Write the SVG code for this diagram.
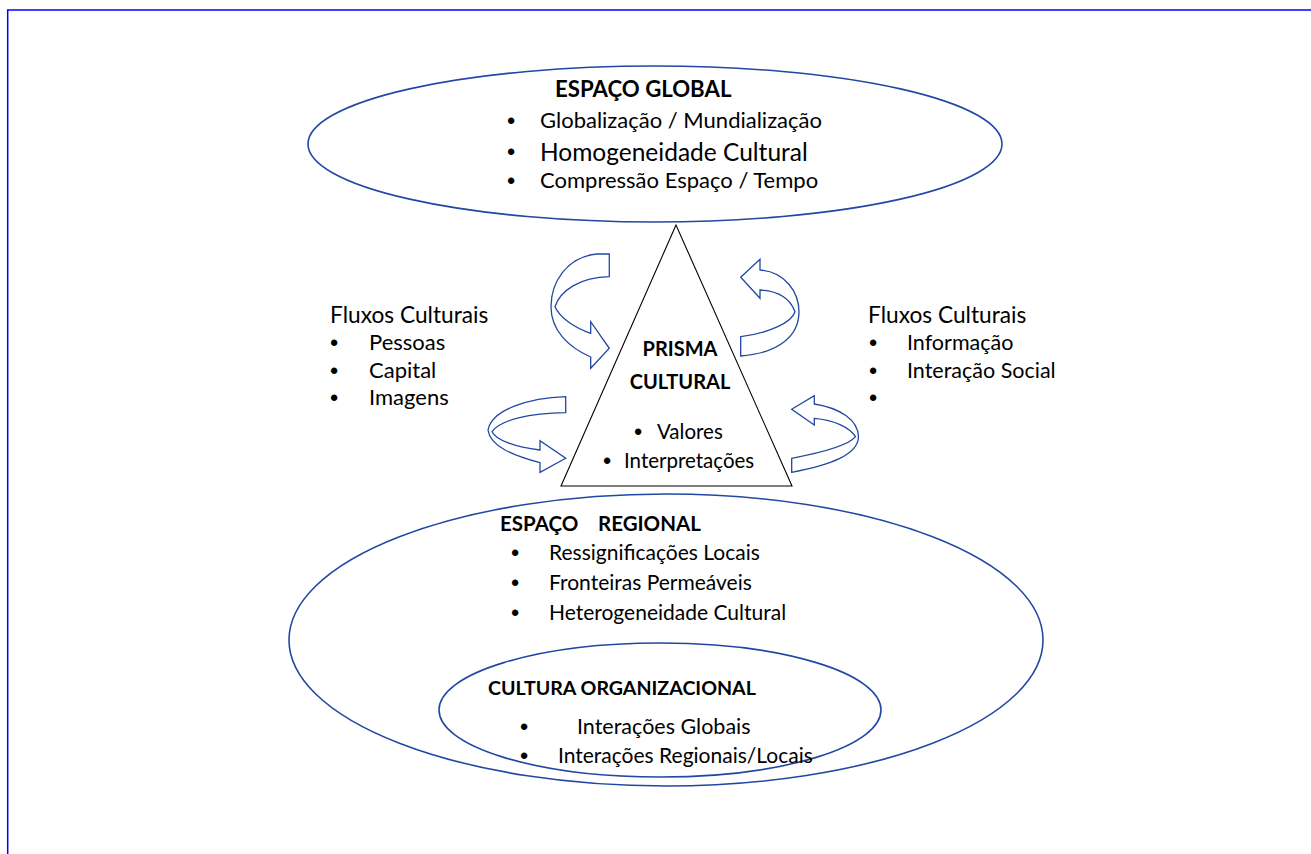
<svg xmlns="http://www.w3.org/2000/svg" width="1311" height="854" viewBox="0 0 1311 854">
  <style>
    .t { font-family: Lato, "Liberation Sans", sans-serif; fill: #000; }
    .b { font-weight: bold; }
    .bul { font-family: "Liberation Sans", sans-serif; fill: #000; text-anchor: middle; font-size: 23.5px; }
    .oval { fill: none; stroke: #2248a4; stroke-width: 1.6; }
    .arrow { fill: #fff; stroke: #2248a4; stroke-width: 1.3; stroke-linejoin: miter; }
  </style>

  <!-- page frame -->
  <path d="M7.7,854 V10 H1311" fill="none" stroke="#0000ff" stroke-width="1.5"/>

  <g id="espaco-global">
    <ellipse class="oval" cx="655" cy="144" rx="347" ry="78"/>
    <text class="t b" x="555" y="97" font-size="22.2">ESPAÇO GLOBAL</text>
    <text class="bul" x="511" y="129">•</text>
    <text class="t" x="540" y="128" font-size="22">Globalização / Mundialização</text>
    <text class="bul" x="511" y="160">•</text>
    <text class="t" x="540" y="161" font-size="24.5">Homogeneidade Cultural</text>
    <text class="bul" x="511" y="189">•</text>
    <text class="t" x="540" y="188" font-size="22">Compressão Espaço / Tempo</text>
  </g>

  <g id="espaco-regional">
    <ellipse class="oval" cx="666" cy="640" rx="377" ry="146"/>
    <text class="t b" x="500" y="531" font-size="20.5">ESPAÇO</text>
    <text class="t b" x="598" y="531" font-size="20.5">REGIONAL</text>
    <text class="bul" x="515" y="561">•</text>
    <text class="t" x="549" y="560" font-size="21">Ressignificações Locais</text>
    <text class="bul" x="515" y="591">•</text>
    <text class="t" x="549" y="590" font-size="21">Fronteiras Permeáveis</text>
    <text class="bul" x="515" y="621">•</text>
    <text class="t" x="549" y="620" font-size="21">Heterogeneidade Cultural</text>
  </g>

  <g id="cultura-organizacional">
    <ellipse class="oval" cx="660" cy="710" rx="221" ry="67"/>
    <text class="t b" x="488" y="695" font-size="19.6">CULTURA ORGANIZACIONAL</text>
    <text class="bul" x="524" y="735">•</text>
    <text class="t" x="577" y="734" font-size="21.5">Interações Globais</text>
    <text class="bul" x="524" y="764">•</text>
    <text class="t" x="558" y="763" font-size="21">Interações Regionais/Locais</text>
  </g>

  <g id="prisma-cultural">
    <polygon points="676,225 561,486 792,486" fill="#fff" stroke="#000" stroke-width="1.1"/>
    <text class="t b" x="680" y="356" font-size="20" text-anchor="middle">PRISMA</text>
    <text class="t b" x="680" y="389" font-size="20" text-anchor="middle">CULTURAL</text>
    <text class="bul" x="638" y="440">•</text>
    <text class="t" x="657" y="439" font-size="20.5">Valores</text>
    <text class="bul" x="607" y="469">•</text>
    <text class="t" x="624" y="468" font-size="20.5">Interpretações</text>
  </g>

  <g id="fluxos-esquerda">
    <text class="t" x="330" y="323" font-size="22.7">Fluxos Culturais</text>
    <text class="bul" x="334" y="351">•</text>
    <text class="t" x="369" y="350" font-size="22">Pessoas</text>
    <text class="bul" x="334" y="379">•</text>
    <text class="t" x="369" y="378" font-size="22">Capital</text>
    <text class="bul" x="334" y="406">•</text>
    <text class="t" x="369" y="405" font-size="22">Imagens</text>
  </g>

  <g id="fluxos-direita">
    <text class="t" x="868" y="323" font-size="22.7">Fluxos Culturais</text>
    <text class="bul" x="873" y="351">•</text>
    <text class="t" x="907" y="350" font-size="21.5">Informação</text>
    <text class="bul" x="873" y="379">•</text>
    <text class="t" x="907" y="378" font-size="21.5">Interação Social</text>
    <text class="bul" x="873" y="406">•</text>
  </g>

  <!-- curved block arrows turning flows into the prism -->
  <g id="connectors">
    <path class="arrow" d="M609.3,254 L596.7,254 C566,257 551,283 551,306.7 C551,330 568,347 590.7,357 L590.7,368.3 L609.3,348.3 L590.7,321.7 L590.7,333.3 C575,328 560,318 555,306.7 C560,291 580,277 609.3,276.7 Z"/>
    <path class="arrow" d="M565.7,396.7 C530,398 492,409 488,430 C490,446 512,455 540,462.7 L540,472.3 L565.7,458.3 L540,440.7 L540,450 C515,447 496,440 492,431.7 C500,420 530,413 565.7,412.7 Z"/>
    <path class="arrow" d="M740.7,277.3 L760,259.3 L760,270 C785,272 799,292 799,311.7 C799,335 780,353 740.7,356 L740.7,336.7 C770,333 792,322 795,311.7 C790,298 778,291 760,290 L760,298.3 Z"/>
    <path class="arrow" d="M791.7,409.3 L814.3,395.7 L814.3,404 C840,408 858,420 858.5,436.7 C858,455 830,465 791.7,472.3 L791.7,458.3 C820,453 848,446 855.5,436.7 C850,428 835,420 814.3,418.3 L814.3,425 Z"/>
  </g>
</svg>
